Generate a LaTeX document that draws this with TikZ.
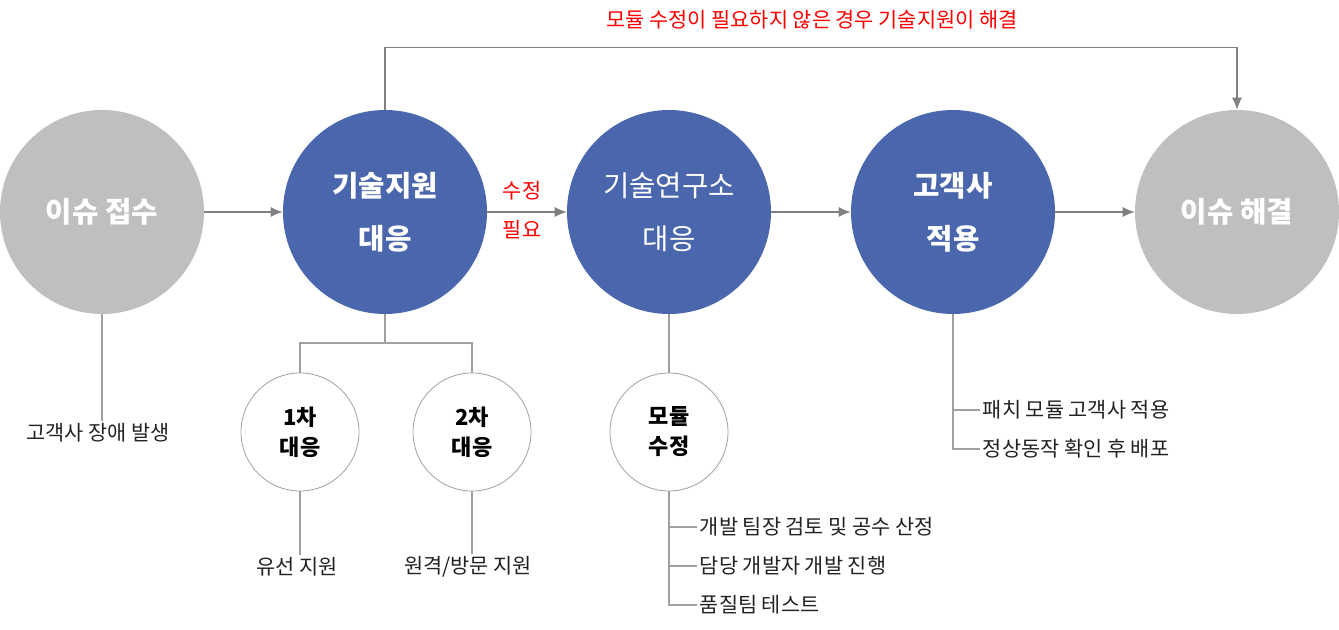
\documentclass[tikz,border=0pt]{standalone}
\usepackage{fontspec}
\setmainfont{Noto Sans CJK KR}
\usetikzlibrary{arrows.meta}
\definecolor{issuegray}{HTML}{BFBFBF}
\definecolor{teamblue}{HTML}{4A66AC}
\definecolor{arrowgray}{HTML}{808080}
\definecolor{linegray}{HTML}{A0A0A0}
\definecolor{notetext}{HTML}{222222}
\tikzset{
  issue/.style={circle,fill=issuegray,minimum size=153pt,inner sep=0pt,text=white,align=center,font=\bfseries\fontsize{21.5}{40}\selectfont},
  team/.style={issue,fill=teamblue},
  sub/.style={circle,draw=linegray,line width=0.6pt,minimum size=88.5pt,inner sep=0pt,align=center,font=\bfseries\fontsize{16.5}{22.5}\selectfont},
  note/.style={text=notetext,inner sep=2pt,font=\fontsize{15.6}{29.5}\selectfont},
  flow/.style={->,draw=arrowgray,line width=0.8pt},
  link/.style={draw=linegray,line width=0.8pt}
}
\begin{document}
\begin{tikzpicture}[x=0.75pt,y=-0.75pt,>={Latex[length=9pt,width=7.5pt]}]
\useasboundingbox (0,0) rectangle (1339,630);
\node[issue](recv) at (102,212){이슈 접수};
\node[team](tech) at (385,212){기술지원\\대응};
\node[team,font=\fontsize{21.5}{40}\selectfont](lab) at (669,212){기술연구소\\대응};
\node[team](cust) at (953,212){고객사\\적용};
\node[issue](done) at (1237,212){이슈 해결};

\draw[flow](recv)--(tech);
\draw[flow](tech)--(lab);
\draw[flow](lab)--(cust);
\draw[flow](cust)--(done);
\node[note,text=red,align=center](need) at (522,210){수정\\필요};
\draw[flow](tech.north)--++(0,-62)-|(done.north);
\node[note,text=red](skip) at (812,20){모듈 수정이 필요하지 않은 경우 기술지원이 해결};

\node[note](recvnote) at (98,433){고객사 장애 발생};
\draw[link](recv.south)--(recv.south|-recvnote.north);

\node[sub](first) at (300,432){1차\\대응};
\node[sub](second) at (472,432){2차\\대응};
\coordinate(fork) at (385,343);
\draw[link](tech.south)--(fork);
\draw[link](first.north)|-(fork)-|(second.north);
\node[note](firstnote) at (297,567){유선 지원};
\node[note](secondnote) at (468,567){원격/방문 지원};
\draw[link](first.south)--(first.south|-firstnote.north);
\draw[link](second.south)--(second.south|-secondnote.north);

\node[sub](module) at (669,432){모듈\\수정};
\draw[link](lab.south)--(module.north);
\node[note,anchor=west](review) at (697,527){개발 팀장 검토 및 공수 산정};
\node[note,anchor=west](dev) at (697,566){담당 개발자 개발 진행};
\node[note,anchor=west](qa) at (697,605){품질팀 테스트};
\draw[link](module.south)|-(qa.west);
\draw[link](module.south|-review.west)--(review.west);
\draw[link](module.south|-dev.west)--(dev.west);

\node[note,anchor=west](patch) at (980,410){패치 모듈 고객사 적용};
\node[note,anchor=west](deploy) at (980,449){정상동작 확인 후 배포};
\draw[link](cust.south)|-(deploy.west);
\draw[link](cust.south|-patch.west)--(patch.west);
\end{tikzpicture}
\end{document}
